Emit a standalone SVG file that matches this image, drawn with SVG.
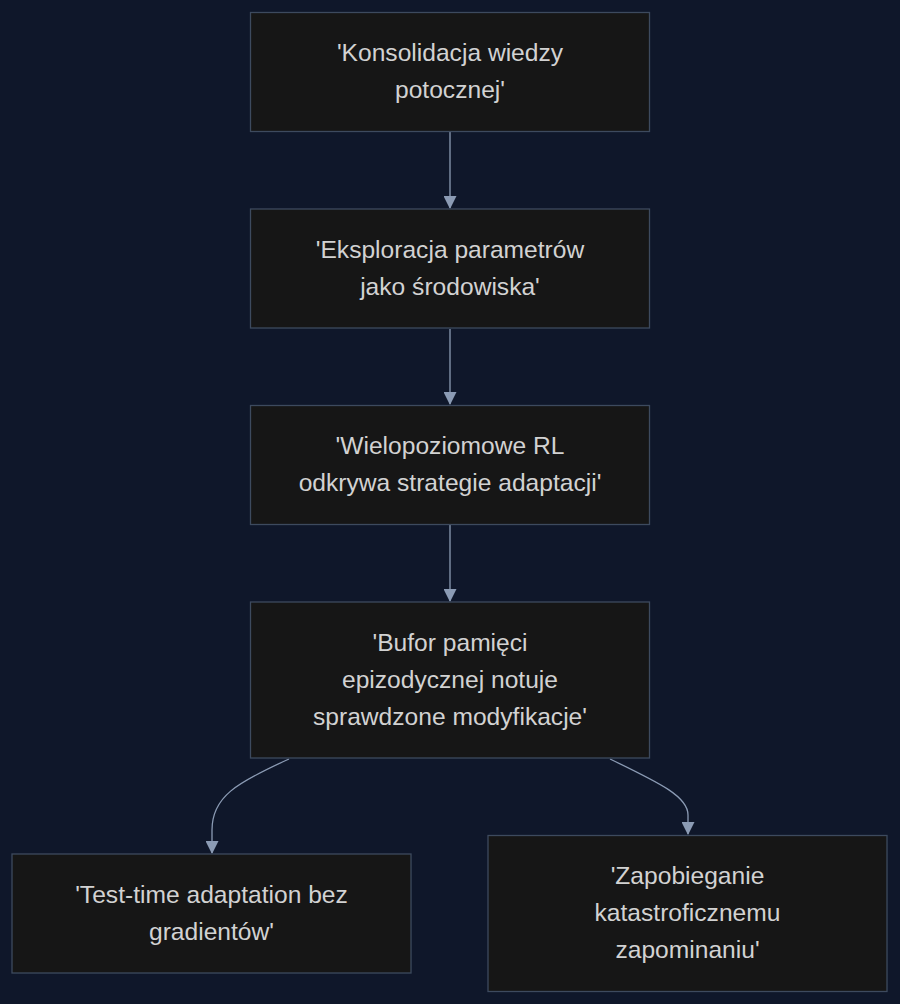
<svg xmlns="http://www.w3.org/2000/svg" width="900" height="1004" viewBox="0 0 900 1004">
<style>
.node rect{fill:#161616;stroke:#3d4a5e;stroke-width:1.3}
.node text{font-family:"Liberation Sans",Arial,sans-serif;font-size:24.6px;fill:#d2d2d2;text-anchor:middle}
.edge{fill:none;stroke:#8b9bb4;stroke-width:1.3}
</style>
<defs>
<marker id="arr" markerUnits="userSpaceOnUse" markerWidth="13" markerHeight="13" refX="12" refY="6.5" orient="auto">
<path d="M0,0 L13,6.5 L0,13 z" fill="#8b9bb4"/>
</marker>
</defs>
<rect width="900" height="1004" fill="#0f172a"/>
<g id="connectors">
<path class="edge" d="M450,132 L450,208" marker-end="url(#arr)"/>
<path class="edge" d="M450,329 L450,404" marker-end="url(#arr)"/>
<path class="edge" d="M450,525 L450,601" marker-end="url(#arr)"/>
<path class="edge" d="M289,759 C236,783 212,797 212,830 L212,853" marker-end="url(#arr)"/>
<path class="edge" d="M610,759 C662,784 688,797 688,815 L688,834" marker-end="url(#arr)"/>
</g>
<g id="n1" class="node">
<rect x="250.5" y="12.5" width="399" height="119"/>
<text x="450" y="61">'Konsolidacja wiedzy</text>
<text x="450" y="98">potocznej'</text>
</g>
<g id="n2" class="node">
<rect x="250.5" y="209" width="399" height="119"/>
<text x="450" y="258">'Eksploracja parametrów</text>
<text x="450" y="295">jako środowiska'</text>
</g>
<g id="n3" class="node">
<rect x="250.5" y="405.5" width="399" height="119"/>
<text x="450" y="454">'Wielopoziomowe RL</text>
<text x="450" y="491">odkrywa strategie adaptacji'</text>
</g>
<g id="n4" class="node">
<rect x="250.5" y="602" width="399" height="156"/>
<text x="450" y="651">'Bufor pamięci</text>
<text x="450" y="688">epizodycznej notuje</text>
<text x="450" y="725">sprawdzone modyfikacje'</text>
</g>
<g id="n5" class="node">
<rect x="12" y="854" width="399" height="119"/>
<text x="211.5" y="903">'Test-time adaptation bez</text>
<text x="211.5" y="940">gradientów'</text>
</g>
<g id="n6" class="node">
<rect x="488" y="835.5" width="399" height="156"/>
<text x="687.5" y="884">'Zapobieganie</text>
<text x="687.5" y="921">katastroficznemu</text>
<text x="687.5" y="958">zapominaniu'</text>
</g>
</svg>
